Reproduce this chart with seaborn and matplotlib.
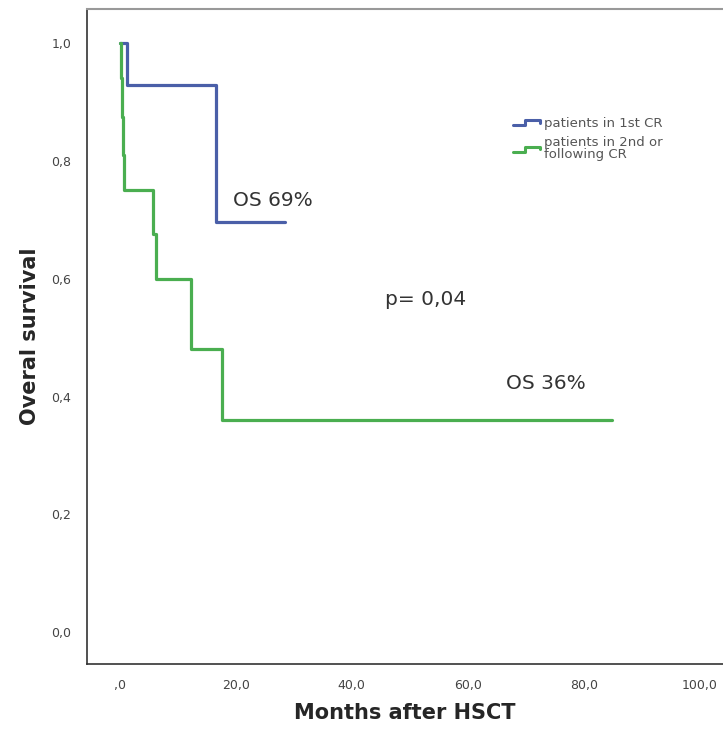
import numpy as np
import pandas as pd
import matplotlib
matplotlib.use("Agg")
import matplotlib.pyplot as plt
import seaborn as sns
from matplotlib.legend_handler import HandlerBase
from matplotlib.lines import Line2D

# Kaplan-Meier steps
first_cr_months = [0.0, 1.3, 16.5, 28.5]
first_cr_surv = [1.0, 0.929, 0.696, 0.696]

later_cr_months = [0.0, 0.2, 0.4, 0.6, 0.8, 5.7, 6.2, 12.3, 17.6, 84.8]
later_cr_surv = [1.0, 0.94, 0.875, 0.81, 0.75, 0.675, 0.60, 0.48, 0.36, 0.36]

group_labels = ["patients in 1st CR", "patients in 2nd or\nfollowing CR"]
group_colors = ["#4a5fa8", "#4aae50"]

x_ticks = [0, 20, 40, 60, 80, 100]
x_tick_labels = [",0", "20,0", "40,0", "60,0", "80,0", "100,0"]
y_ticks = [0.0, 0.2, 0.4, 0.6, 0.8, 1.0]
y_tick_labels = ["0,0", "0,2", "0,4", "0,6", "0,8", "1,0"]

df = pd.concat([
    pd.DataFrame({"months": first_cr_months, "survival": first_cr_surv, "group": group_labels[0]}),
    pd.DataFrame({"months": later_cr_months, "survival": later_cr_surv, "group": group_labels[1]}),
])

sns.set_style("white")
plt.rcParams["font.family"] = ["DejaVu Sans"]

fig = plt.figure(figsize=(7.23, 7.33), dpi=100)
ax = fig.add_axes([0.12, 0.094, 0.88, 0.894])

sns.lineplot(data=df, x="months", y="survival", hue="group", palette=group_colors,
             estimator=None, sort=False, drawstyle="steps-post", linewidth=2.3,
             legend=False, ax=ax)

ax.set_xlim(-5.7, 104.0)
ax.set_ylim(-0.054, 1.058)
ax.set_xticks(x_ticks)
ax.set_xticklabels(x_tick_labels, fontsize=9, color="#444444")
ax.set_yticks(y_ticks)
ax.set_yticklabels(y_tick_labels, fontsize=9, color="#444444")
ax.tick_params(axis="both", direction="out", length=5, width=1, color="#333333", pad=6)

ax.set_xlabel("Months after HSCT", fontsize=15, fontweight="bold", labelpad=8)
ax.set_ylabel("Overal survival", fontsize=15, fontweight="bold", labelpad=8)

for side in ["left", "bottom"]:
    ax.spines[side].set_color("#333333")
    ax.spines[side].set_linewidth(1.2)
ax.spines["top"].set_color("#999999")
ax.spines["top"].set_linewidth(1.5)
ax.spines["right"].set_visible(False)

ax.text(19.5, 0.733, "OS 69%", fontsize=14.5, color="#333333", va="center")
ax.text(45.7, 0.564, "p= 0,04", fontsize=14.5, color="#333333", va="center")
ax.text(66.5, 0.423, "OS 36%", fontsize=14.5, color="#333333", va="center")


class StepHandler(HandlerBase):
    def create_artists(self, legend, orig_handle, xdescent, ydescent, width, height, fontsize, trans):
        xs = np.array([0, 0.45, 0.45, 1.0, 1.0]) * width - xdescent
        ys = np.array([0.2, 0.2, 0.75, 0.75, 0.45]) * height - ydescent
        line = Line2D(xs, ys, color=orig_handle.get_color(), linewidth=2.2)
        line.set_transform(trans)
        return [line]


handles = [Line2D([], [], color=c) for c in group_colors]
leg = ax.legend(handles, group_labels, loc="upper left", bbox_to_anchor=(0.66, 0.845),
                frameon=False, fontsize=9.5, handlelength=2.0, handletextpad=0.3,
                labelspacing=0.45, borderpad=0, handler_map={Line2D: StepHandler()})
for t in leg.get_texts():
    t.set_color("#555555")
    t.set_linespacing(0.95)

fig.savefig("out.png", dpi=100)
